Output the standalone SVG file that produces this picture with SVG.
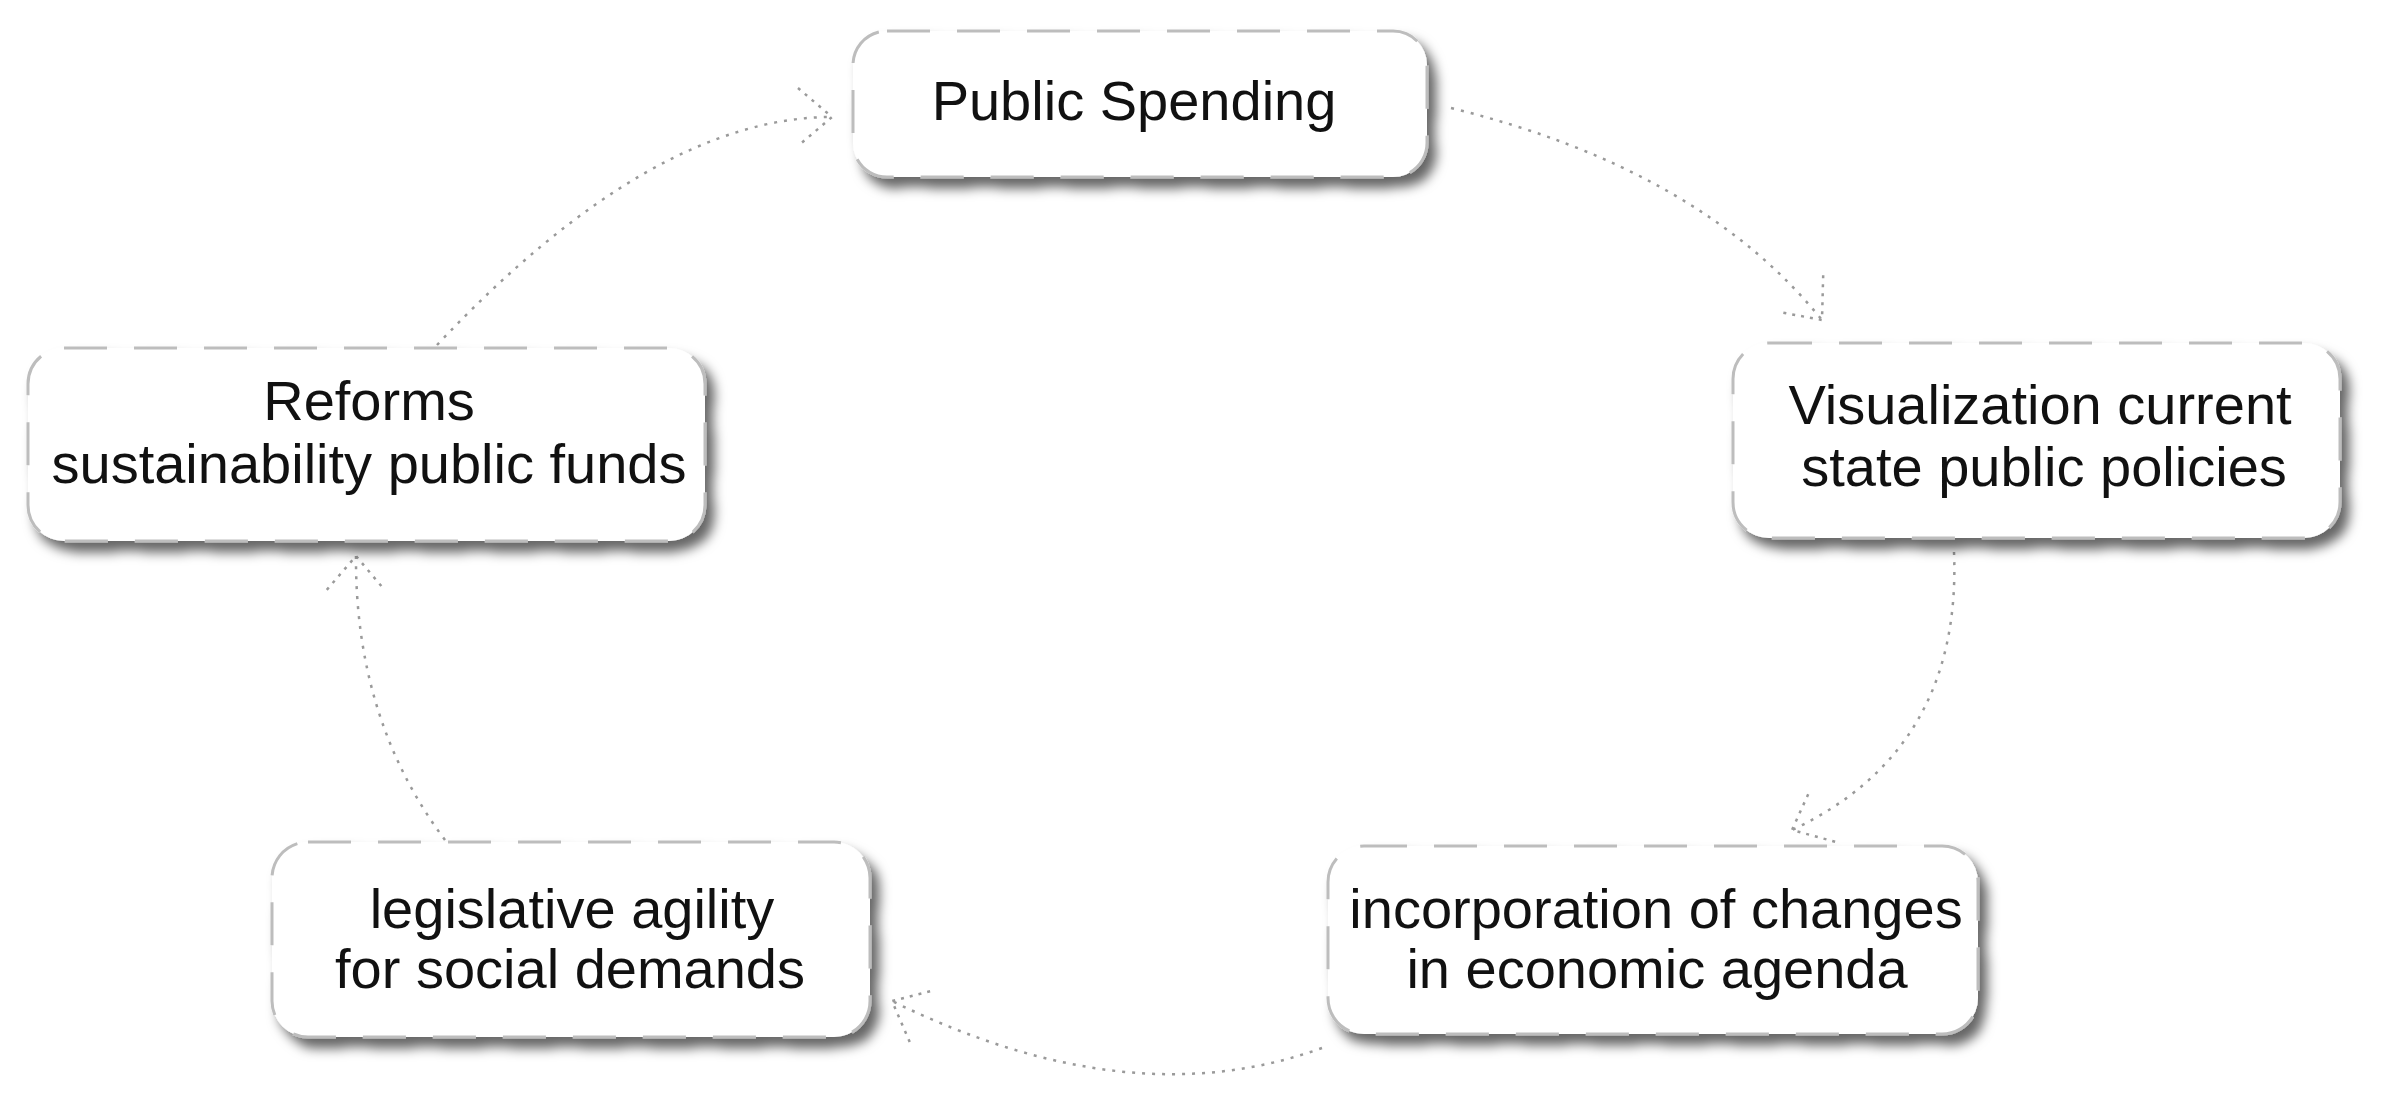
<svg xmlns="http://www.w3.org/2000/svg" width="2387" height="1109" viewBox="0 0 2387 1109">
<defs>
<style>
.box{fill:#ffffff;stroke:#bdbdbd;stroke-width:3;stroke-dasharray:43 27;filter:url(#sh);}
.lbl{font-family:"Liberation Sans",Arial,sans-serif;font-size:56px;fill:#111111;text-anchor:middle;}
.con{fill:none;stroke:#9a9a9a;stroke-width:2.5;stroke-dasharray:3 7;}
</style>
<filter id="sh" x="-10%" y="-20%" width="125%" height="150%">
<feDropShadow dx="8" dy="10" stdDeviation="6" flood-color="#000000" flood-opacity="0.6"/>
</filter>
<marker id="ah" markerUnits="userSpaceOnUse" viewBox="-50 -40 60 80" refX="0" refY="0" markerWidth="60" markerHeight="80" orient="auto">
<path d="M-34,-29 L0,0 L-34,29" fill="none" stroke="#9a9a9a" stroke-width="2.5" stroke-dasharray="3 6"/>
</marker>
</defs>
<rect width="2387" height="1109" fill="#ffffff"/>
<g id="connectors">
<path class="con" d="M1451,108 Q1700,169 1822,320" marker-end="url(#ah)"/>
<path class="con" d="M1954,552 Q1962,750 1792,830" marker-end="url(#ah)"/>
<path class="con" d="M1322,1048 Q1130,1118 892,1001" marker-end="url(#ah)"/>
<path class="con" d="M445,840 Q355,720 356,556" marker-end="url(#ah)"/>
<path class="con" d="M437,345 Q652,117 832,117" marker-end="url(#ah)"/>
</g>
<g id="node-public-spending">
<rect class="box" x="853" y="31" width="574" height="146" rx="34"/>
<text class="lbl" x="1134" y="120">Public Spending</text>
</g>
<g id="node-visualization">
<rect class="box" x="1733" y="343" width="607" height="195" rx="36"/>
<text class="lbl" x="2040" y="424">Visualization current</text>
<text class="lbl" x="2044" y="486">state public policies</text>
</g>
<g id="node-incorporation">
<rect class="box" x="1328" y="846" width="650" height="188" rx="36"/>
<text class="lbl" x="1656" y="928">incorporation of changes</text>
<text class="lbl" x="1657" y="988">in economic agenda</text>
</g>
<g id="node-legislative">
<rect class="box" x="272" y="842" width="598" height="195" rx="36"/>
<text class="lbl" x="572" y="928">legislative agility</text>
<text class="lbl" x="570" y="988">for social demands</text>
</g>
<g id="node-reforms">
<rect class="box" x="28" y="348" width="677" height="193" rx="36"/>
<text class="lbl" x="369" y="420">Reforms</text>
<text class="lbl" x="369" y="483">sustainability public funds</text>
</g>
</svg>
